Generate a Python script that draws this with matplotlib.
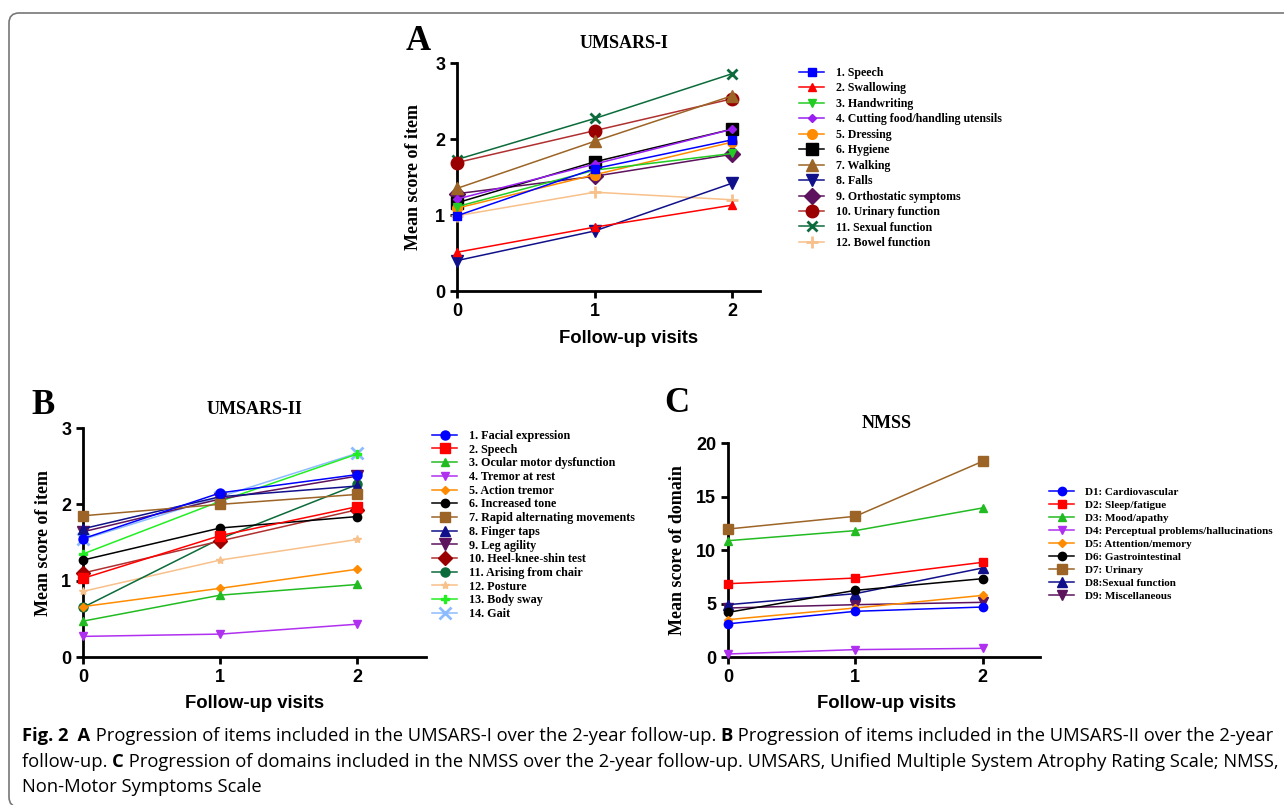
import matplotlib
matplotlib.use("Agg")
import matplotlib.pyplot as plt
from matplotlib import font_manager
from matplotlib.patches import FancyBboxPatch

# follow-up visits (x axis)
visits = [0, 1, 2]

# A: UMSARS-I items
umsars1_labels = ["1. Speech", "2. Swallowing", "3. Handwriting",
                  "4. Cutting food/handling utensils", "5. Dressing", "6. Hygiene",
                  "7. Walking", "8. Falls", "9. Orthostatic symptoms",
                  "10. Urinary function", "11. Sexual function", "12. Bowel function"]
umsars1_values = [[0.99, 1.61, 1.99], [0.51, 0.84, 1.13], [1.11, 1.59, 1.81],
                  [1.21, 1.67, 2.13], [1.09, 1.53, 1.96], [1.16, 1.70, 2.13],
                  [1.35, 1.97, 2.57], [0.40, 0.79, 1.42], [1.28, 1.51, 1.80],
                  [1.69, 2.11, 2.53], [1.73, 2.27, 2.86], [0.99, 1.30, 1.20]]

# B: UMSARS-II items
umsars2_labels = ["1. Facial expression", "2. Speech", "3. Ocular motor dysfunction",
                  "4. Tremor at rest", "5. Action tremor", "6. Increased tone",
                  "7. Rapid alternating movements", "8. Finger taps", "9. Leg agility",
                  "10. Heel-knee-shin test", "11. Arising from chair", "12. Posture",
                  "13. Body sway", "14. Gait"]
umsars2_values = [[1.55, 2.15, 2.39], [1.03, 1.59, 1.97], [0.47, 0.81, 0.95],
                  [0.27, 0.30, 0.43], [0.66, 0.90, 1.15], [1.27, 1.69, 1.84],
                  [1.85, 2.00, 2.13], [1.68, 2.10, 2.24], [1.64, 2.07, 2.37],
                  [1.10, 1.52, 1.93], [0.65, 1.55, 2.26], [0.86, 1.27, 1.54],
                  [1.35, 2.04, 2.66], [1.54, 2.10, 2.67]]

# C: NMSS domains
nmss_labels = ["D1: Cardiovascular", "D2: Sleep/fatigue", "D3: Mood/apathy",
               "D4: Perceptual problems/hallucinations", "D5: Attention/memory",
               "D6: Gastrointestinal", "D7: Urinary", "D8:Sexual function",
               "D9: Miscellaneous"]
nmss_values = [[3.1, 4.27, 4.67], [6.85, 7.38, 8.85], [10.87, 11.81, 13.93],
               [0.28, 0.69, 0.81], [3.49, 4.58, 5.76], [4.17, 6.23, 7.32],
               [11.96, 13.15, 18.29], [4.89, 5.92, 8.32], [4.58, 4.89, 5.11]]

# styles: (marker colour, line colour, marker, size)
styles_a = [("#0000ff", "#0000ff", "s", 6), ("#ff0000", "#ff0000", "^", 6),
            ("#22cc22", "#22cc22", "v", 6), ("#9a1ef0", "#9a1ef0", "D", 4.5),
            ("#ff8c00", "#ff8c00", "o", 7), ("#000000", "#000000", "s", 9),
            ("#9c6426", "#9c6426", "^", 9), ("#10108a", "#10108a", "v", 8),
            ("#5c125c", "#5c125c", "D", 8), ("#9a0000", "#b03030", "o", 9),
            ("#0b6b3a", "#0b6b3a", "x", 7), ("#f8c08a", "#f8c08a", "+", 8)]
styles_b = [("#0000ff", "#0000ff", "o", 6.5), ("#ff0000", "#ff0000", "s", 6.5),
            ("#22bb22", "#22bb22", "^", 6), ("#b030f0", "#b030f0", "v", 6),
            ("#ff8c00", "#ff8c00", "D", 4.5), ("#000000", "#000000", "o", 6),
            ("#9c6426", "#9c6426", "s", 7), ("#10108a", "#10108a", "^", 7),
            ("#5c125c", "#5c125c", "v", 9), ("#9a0000", "#b03030", "D", 7),
            ("#0b6b3a", "#0b6b3a", "o", 6.5), ("#f8c08a", "#f8c08a", "*", 6),
            ("#22ee22", "#22ee22", "P", 6), ("#8cbcff", "#8cbcff", "x", 8)]
styles_c = [("#0000ff", "#0000ff", "o", 6), ("#ff0000", "#ff0000", "s", 6),
            ("#22bb22", "#22bb22", "^", 6), ("#b030f0", "#b030f0", "v", 6),
            ("#ff8c00", "#ff8c00", "D", 4.5), ("#000000", "#000000", "o", 6),
            ("#9c6426", "#9c6426", "s", 6.5), ("#10108a", "#10108a", "^", 6.5),
            ("#5c125c", "#5c125c", "v", 6.5)]

SERIF = "Liberation Serif"
SANS = "Liberation Sans"
W, H = 1284, 805

fig = plt.figure(figsize=(W / 100, H / 100), dpi=100)


def px_axes(left, top, right, bottom):
    return fig.add_axes([left / W, 1 - bottom / H, (right - left) / W, (bottom - top) / H])


def ftext(x, y, s, **kw):
    return fig.text(x / W, 1 - y / H, s, **kw)


def draw_panel(ax, values, labels, styles, xmax, ymax, yticks):
    n = len(values)
    for i, (vals, lab, (mc, lc, m, ms)) in enumerate(zip(values, labels, styles)):
        mew = 2 if m in ("x", "+") else 1
        ax.plot(visits, vals, color=lc, marker=m, ms=ms, mfc=mc, mec=mc, mew=mew,
                lw=1.1, label=lab, clip_on=False, zorder=10 + n - i)
    ax.set_xlim(0, xmax)
    ax.set_ylim(0, ymax)
    ax.set_xticks(visits)
    ax.set_yticks(yticks)
    for s in ("top", "right"):
        ax.spines[s].set_visible(False)
    for s in ("left", "bottom"):
        ax.spines[s].set_linewidth(2)
    ax.tick_params(width=2, length=5, labelsize=13, direction="out")
    for t in ax.get_xticklabels() + ax.get_yticklabels():
        t.set_fontfamily(SANS)
        t.set_fontweight("bold")
    ax.set_facecolor("none")


def legend(ax, x, y, size, spacing):
    h, l = ax.get_legend_handles_labels()
    ax.legend(h, l, loc="upper left", bbox_to_anchor=(x / W, 1 - y / H),
              bbox_transform=fig.transFigure, frameon=False, borderpad=0,
              borderaxespad=0, handlelength=25 / (size * 100 / 72), handletextpad=1.0,
              labelspacing=spacing, prop={"family": SERIF, "weight": "bold", "size": size})


# panel A
axA = px_axes(457, 63, 760, 291)
draw_panel(axA, umsars1_values, umsars1_labels, styles_a, 2.2, 3, [0, 1, 2, 3])
legend(axA, 799, 67, 8.6, 0.29)
ftext(418, 41, "A", family=SERIF, weight="bold", size=25, ha="center", va="center")
ftext(624, 43, "UMSARS-I", family=SERIF, weight="bold", size=13, ha="center", va="center")
ftext(629, 338, "Follow-up visits", family=SANS, weight="bold", size=13.3, ha="center", va="center")
ftext(414, 177, "Mean score of item", family=SERIF, weight="bold", size=13,
      ha="center", va="center", rotation=90)

# panel B
axB = px_axes(83, 428, 426, 657)
draw_panel(axB, umsars2_values, umsars2_labels, styles_b, 2.5, 3, [0, 1, 2, 3])
legend(axB, 432, 430, 8.7, 0.14)
ftext(43, 405, "B", family=SERIF, weight="bold", size=25, ha="center", va="center")
ftext(255, 410, "UMSARS-II", family=SERIF, weight="bold", size=13, ha="center", va="center")
ftext(255, 703, "Follow-up visits", family=SANS, weight="bold", size=13.3, ha="center", va="center")
ftext(44, 543, "Mean score of item", family=SERIF, weight="bold", size=13,
      ha="center", va="center", rotation=90)

# panel C
axC = px_axes(728, 443, 1040, 657)
draw_panel(axC, nmss_values, nmss_labels, styles_c, 2.45, 20, [0, 5, 10, 15, 20])
legend(axC, 1049, 487, 8, 0.29)
ftext(677, 403, "C", family=SERIF, weight="bold", size=25, ha="center", va="center")
ftext(887, 423, "NMSS", family=SERIF, weight="bold", size=13, ha="center", va="center")
ftext(887, 703, "Follow-up visits", family=SANS, weight="bold", size=13.3, ha="center", va="center")
ftext(678, 550, "Mean score of domain", family=SERIF, weight="bold", size=13,
      ha="center", va="center", rotation=90)

# rounded frame
fig.patches.append(FancyBboxPatch((9, -2), 1320, 794, boxstyle="round,pad=0,rounding_size=10",
                                  transform=None, fc="none", ec="#777777", lw=1.2, figure=fig))

# caption
names = {f.name for f in font_manager.fontManager.ttflist}
cap_font = "Liberation Sans Narrow" if "Liberation Sans Narrow" in names else "Open Sans"
caption = [
    [("Fig. 2", "bold"), ("  A", "bold"),
     (" Progression of items included in the UMSARS-I over the 2-year follow-up. ", "normal"),
     ("B", "bold"), (" Progression of items included in the UMSARS-II over the 2-year", "normal")],
    [("follow-up. ", "normal"), ("C", "bold"),
     (" Progression of domains included in the NMSS over the 2-year follow-up. UMSARS, "
      "Unified Multiple System Atrophy Rating Scale; NMSS,", "normal")],
    [("Non-Motor Symptoms Scale", "normal")],
]
renderer = fig.canvas.get_renderer()


def run_line(parts, x0, y, size, draw=True):
    x = x0
    made = []
    for s, w in parts:
        t = ftext(x, y, s, family=cap_font, weight=w, size=size, ha="left", va="baseline")
        x += t.get_window_extent(renderer).width
        made.append(t)
    if not draw:
        for t in made:
            t.remove()
    return x - x0


size = 13
widest = max(run_line(p, 22, 741, size, draw=False) for p in caption)
size = size * 1252 / widest
for parts, y in zip(caption, [741, 767, 792]):
    run_line(parts, 22, y, size)

fig.savefig("out.png", dpi=100)
